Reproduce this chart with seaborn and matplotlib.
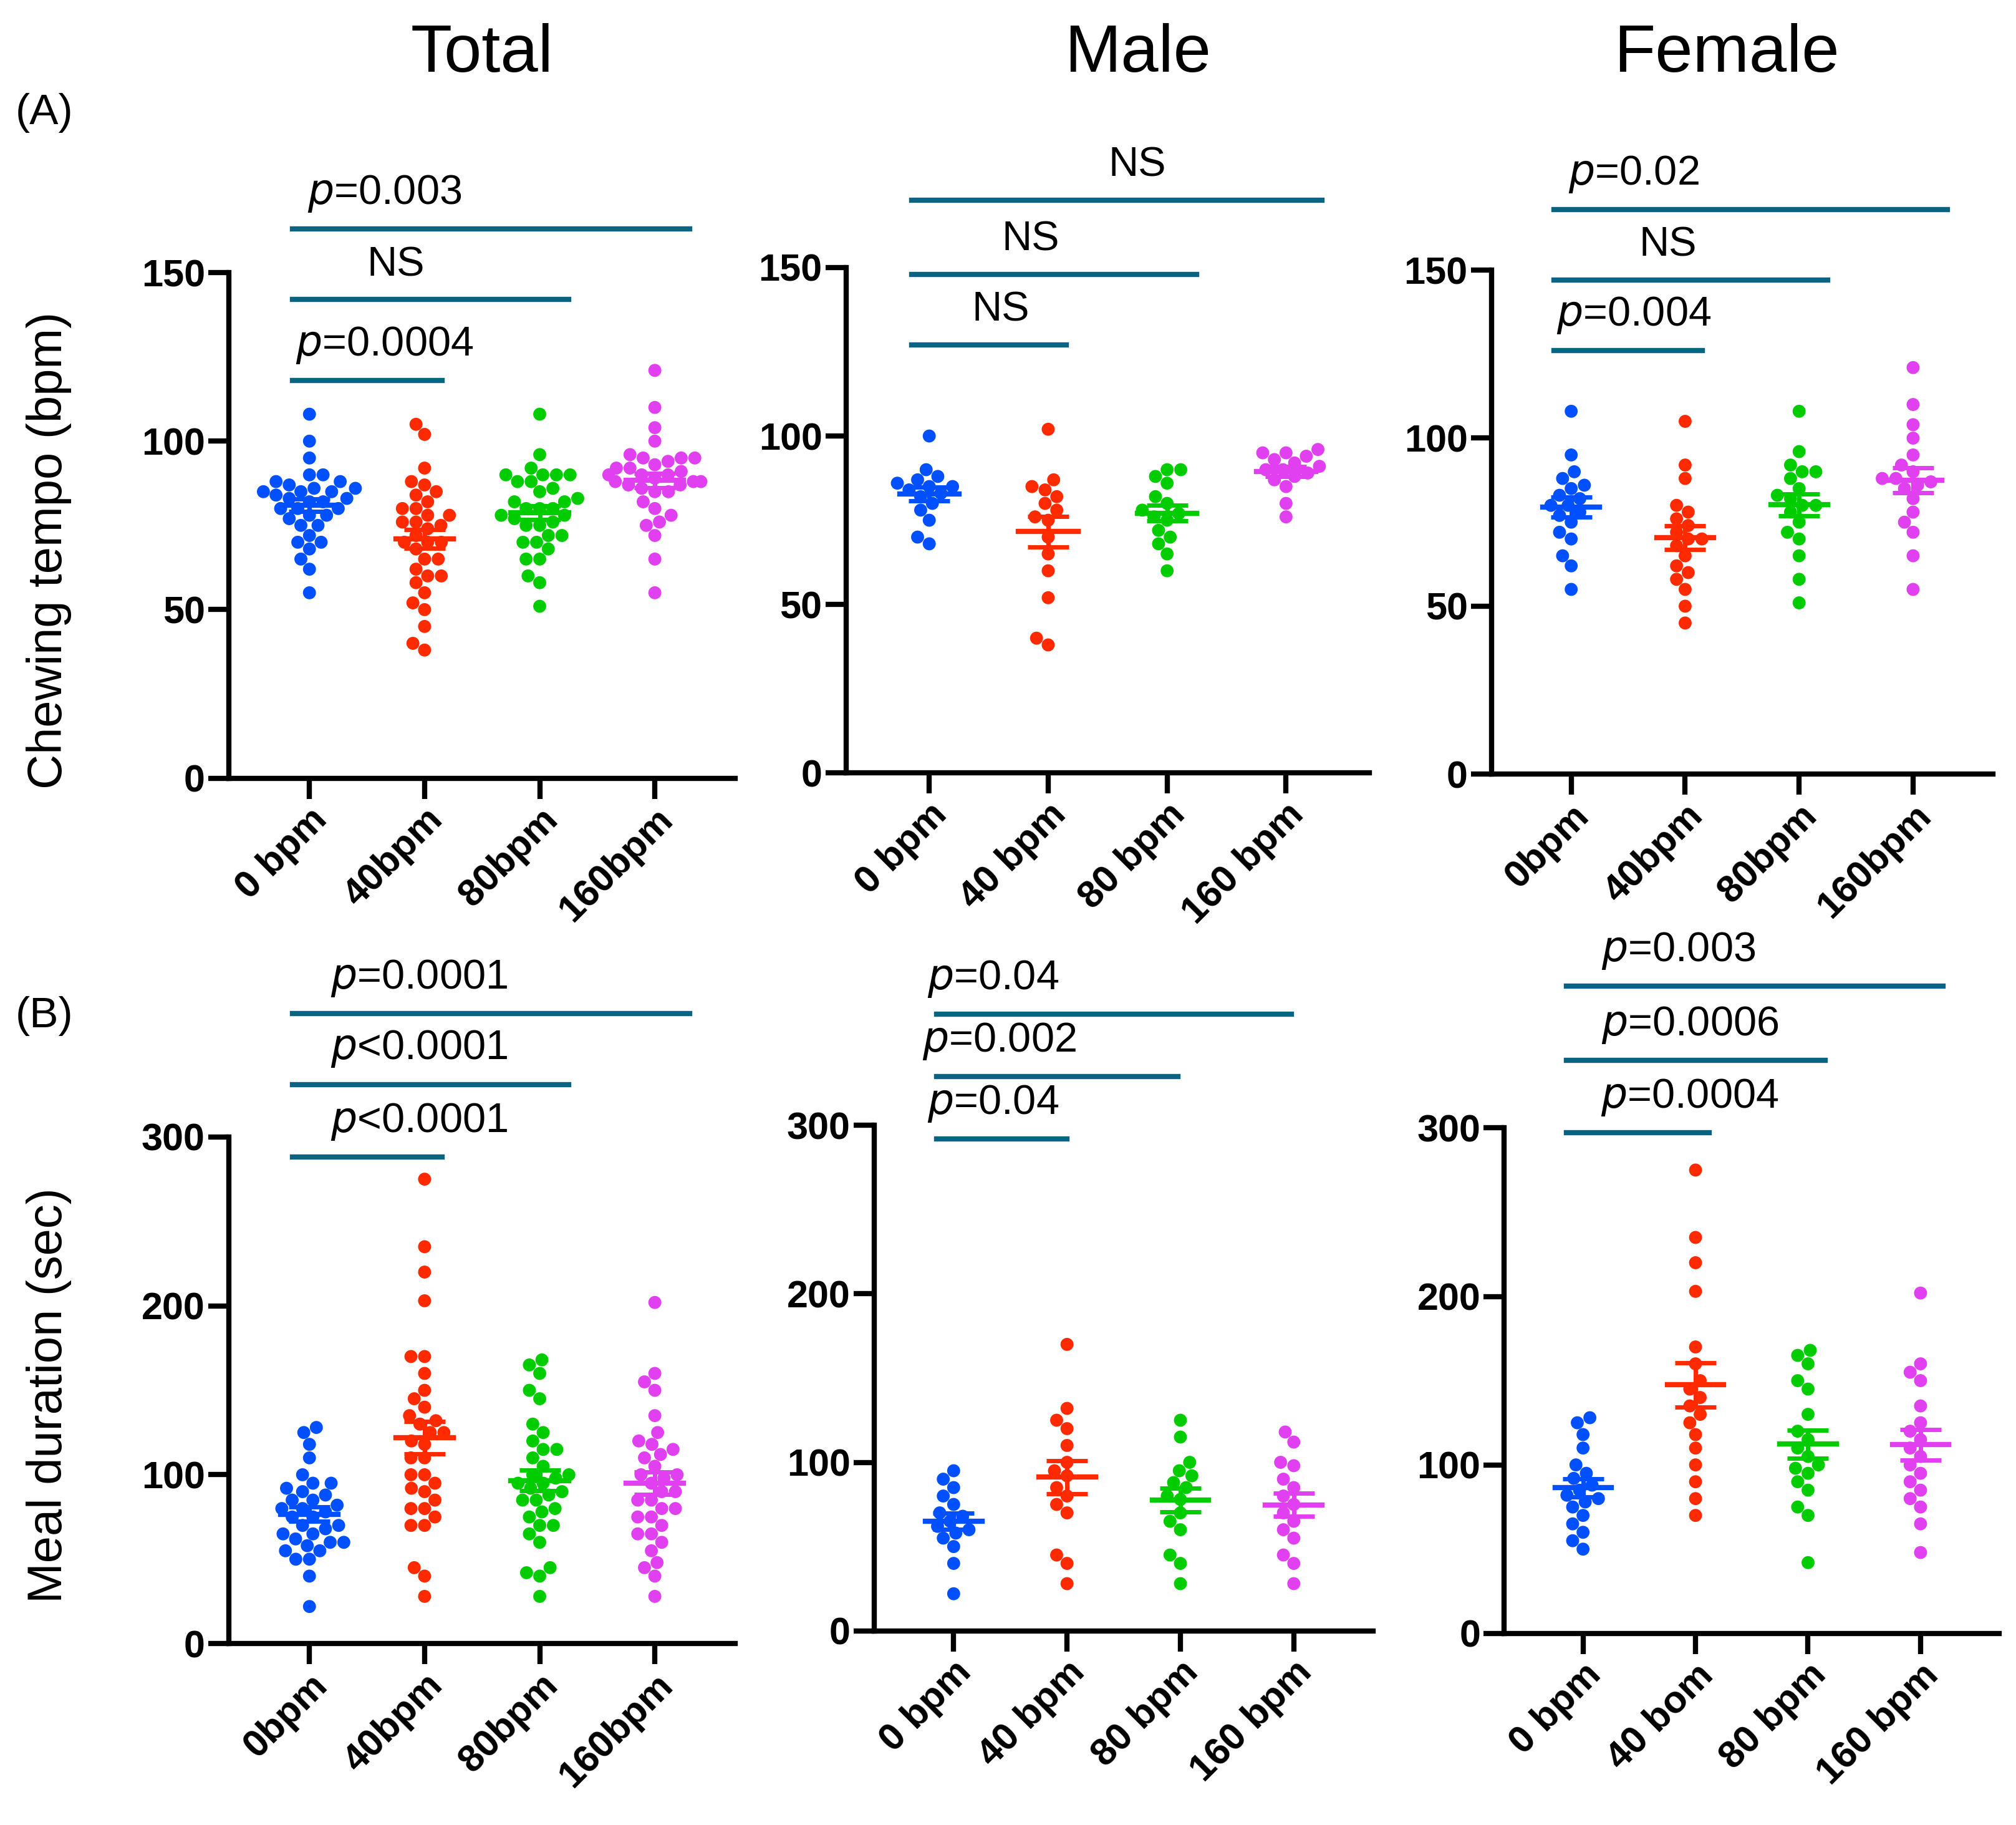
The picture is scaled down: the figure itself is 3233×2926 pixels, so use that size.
import numpy as np
import pandas as pd
import matplotlib.pyplot as plt
import seaborn as sns

plt.rcParams['font.family'] = 'Liberation Sans'

COLORS = ['#0050ff', '#ff2a00', '#00cc00', '#e040f0']
BRACKET = '#0b6382'

# Chewing tempo (bpm), per group: 0, 40, 80, 160 bpm
tempo_male = [
    [100, 90, 88, 87, 86, 85, 85, 84, 83, 82, 80, 78, 75, 70, 68],
    [102, 87, 85, 84, 82, 80, 78, 76, 75, 70, 65, 60, 52, 40, 38],
    [90, 90, 88, 86, 82, 80, 78, 77, 76, 75, 72, 70, 68, 65, 60],
    [96, 95, 95, 94, 93, 92, 91, 90, 90, 89, 88, 87, 85, 80, 76],
]
tempo_female = [
    [108, 95, 90, 88, 86, 85, 83, 82, 80, 80, 78, 77, 75, 72, 70, 65, 62, 55],
    [105, 92, 88, 80, 78, 76, 74, 72, 70, 70, 68, 65, 62, 60, 58, 55, 50, 45],
    [108, 96, 92, 90, 90, 88, 85, 83, 82, 80, 80, 78, 75, 72, 70, 65, 58, 51],
    [121, 110, 104, 100, 95, 92, 90, 88, 88, 87, 86, 85, 82, 78, 75, 72, 65, 55],
]
# Meal duration (sec)
meal_male = [
    [95, 90, 85, 80, 75, 70, 68, 65, 62, 60, 58, 55, 50, 40, 22],
    [170, 132, 125, 120, 110, 100, 95, 92, 85, 80, 75, 70, 45, 40, 28],
    [125, 115, 100, 95, 92, 88, 85, 80, 78, 70, 65, 60, 45, 40, 28],
    [118, 112, 100, 98, 90, 85, 80, 75, 70, 65, 60, 55, 45, 40, 28],
]
meal_female = [
    [128, 125, 118, 110, 100, 95, 92, 88, 85, 82, 80, 78, 75, 70, 65, 60, 55, 50],
    [275, 235, 220, 203, 170, 160, 150, 145, 140, 135, 130, 125, 118, 110, 100, 90, 80, 70],
    [168, 165, 160, 150, 145, 130, 120, 115, 110, 105, 100, 98, 95, 90, 85, 75, 70, 42],
    [202, 160, 155, 150, 135, 125, 120, 115, 110, 105, 100, 95, 90, 85, 80, 75, 65, 48],
]

labels_A = [['0 bpm', '40bpm', '80bpm', '160bpm'],
            ['0 bpm', '40 bpm', '80 bpm', '160 bpm'],
            ['0bpm', '40bpm', '80bpm', '160bpm']]
labels_B = [['0bpm', '40bpm', '80bpm', '160bpm'],
            ['0 bpm', '40 bpm', '80 bpm', '160 bpm'],
            ['0 bpm', '40 bom', '80 bpm', '160 bpm']]

# brackets: (y, end group, text, text centre)
brackets_A = [
    [(118, 1.15, 'p=0.0004', 0.65), (142, 2.25, 'NS', 0.75), (163, 3.3, 'p=0.003', 0.65)],
    [(127, 1.15, 'NS', 0.6), (148, 2.25, 'NS', 0.85), (170, 3.3, 'NS', 1.75)],
    [(126, 1.15, 'p=0.004', 0.55), (147, 2.25, 'NS', 0.85), (168, 3.3, 'p=0.02', 0.55)],
]
brackets_B = [
    [(288, 1.15, 'p<0.0001', 0.95), (331, 2.25, 'p<0.0001', 0.95), (373, 3.3, 'p=0.0001', 0.95)],
    [(292, 1.0, 'p=0.04', 0.35), (329, 1.98, 'p=0.002', 0.4), (366, 2.98, 'p=0.04', 0.35)],
    [(297, 1.12, 'p=0.0004', 0.95), (340, 2.15, 'p=0.0006', 0.95), (384, 3.2, 'p=0.003', 0.85)],
]


def combine(m, f):
    return [a + b for a, b in zip(m, f)]


def draw_panel(ax, groups, labels, ymax, yticks, brackets):
    df = pd.DataFrame({'g': np.concatenate([[i] * len(v) for i, v in enumerate(groups)]),
                       'v': np.concatenate(groups)})
    sns.swarmplot(data=df, x='g', y='v', hue='g', palette=COLORS, size=15,
                  legend=False, ax=ax, zorder=2)
    for i, v in enumerate(groups):
        v = np.array(v, float)
        m = v.mean()
        se = v.std(ddof=1) / np.sqrt(len(v))
        ax.plot([i - 0.25, i + 0.25], [m, m], color=COLORS[i], lw=6, zorder=3)
        ax.errorbar(i, m, yerr=se, color=COLORS[i], capsize=24, capthick=5, elinewidth=5, zorder=3)
    ax.set_xlim(-0.7, 3.7)
    ax.set_ylim(0, ymax)
    ax.set_yticks(yticks)
    ax.set_xticks(range(4))
    ax.set_xticklabels(labels, rotation=45, ha='right', rotation_mode='anchor')
    ax.set_xlabel('')
    ax.set_ylabel('')
    sns.despine(ax=ax)
    for s in ['left', 'bottom']:
        ax.spines[s].set_linewidth(6)
    ax.tick_params(width=6, length=24, labelsize=44)
    for t in ax.get_xticklabels() + ax.get_yticklabels():
        t.set_fontweight('bold')
    for y, x2, txt, xc in brackets:
        ax.plot([-0.15, x2], [y, y], color=BRACKET, lw=6, clip_on=False)
        if txt.startswith('p'):
            txt = r'$\it{p}$' + txt[1:]
        ax.text(xc, y + ymax * 0.03, txt, fontsize=48,
                ha='center', va='bottom', clip_on=False)


fig = plt.figure(figsize=(32.33, 29.26), dpi=100)
H = 1419.0
W = 1568.0


def box(l, r, top, bot):
    return [l / W, 1 - bot / H, (r - l) / W, (bot - top) / H]


pos_A = [box(178, 572, 212, 605), box(658, 1065, 208, 601), box(1160, 1550, 210, 602)]
pos_B = [box(178, 572, 884, 1278), box(680, 1068, 875, 1268), box(1170, 1555, 877, 1270)]

data_A = [combine(tempo_male, tempo_female), tempo_male, tempo_female]
data_B = [combine(meal_male, meal_female), meal_male, meal_female]

for k in range(3):
    ax = fig.add_axes(pos_A[k])
    draw_panel(ax, data_A[k], labels_A[k], 150, [0, 50, 100, 150], brackets_A[k])
    ax = fig.add_axes(pos_B[k])
    draw_panel(ax, data_B[k], labels_B[k], 300, [0, 100, 200, 300], brackets_B[k])

for x, t in [(375, 'Total'), (885, 'Male'), (1343, 'Female')]:
    fig.text(x / W, 1 - 42 / H, t, fontsize=78, ha='center', va='center')
fig.text(12 / W, 1 - 88 / H, '(A)', fontsize=50, va='center')
fig.text(12 / W, 1 - 790 / H, '(B)', fontsize=50, va='center')
fig.text(38 / W, 1 - 428 / H, 'Chewing tempo (bpm)', fontsize=56, rotation=90, ha='center', va='center')
fig.text(38 / W, 1 - 1085 / H, 'Meal duration (sec)', fontsize=56, rotation=90, ha='center', va='center')

fig.savefig('out.png', dpi=100)
